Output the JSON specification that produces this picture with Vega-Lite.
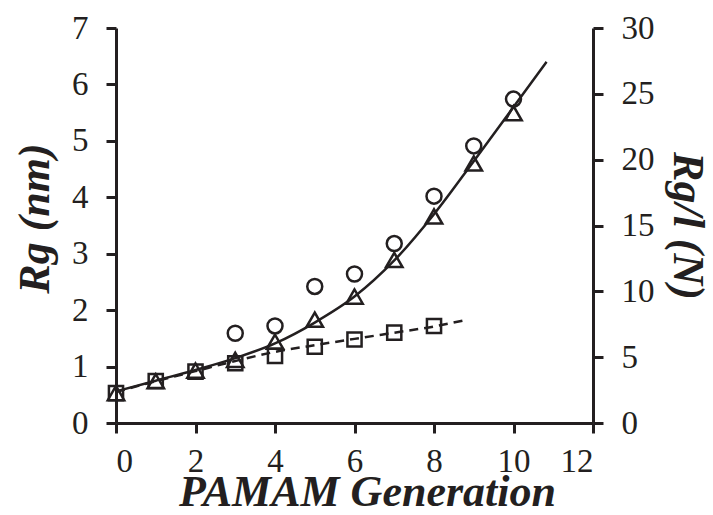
{
  "$schema": "https://vega.github.io/schema/vega-lite/v6.json",
  "width": 477,
  "height": 395,
  "autosize": "none",
  "padding": {"left": 116, "top": 28, "right": 120, "bottom": 92},
  "background": "white",
  "config": {
    "view": {"stroke": null},
    "axis": {
      "grid": false,
      "domainColor": "#231f20",
      "domainWidth": 3,
      "tickColor": "#231f20",
      "tickWidth": 3,
      "tickSize": 10,
      "labelFont": "Times New Roman, Liberation Serif, serif",
      "labelFontSize": 33,
      "labelColor": "#231f20",
      "titleFont": "Times New Roman, Liberation Serif, serif",
      "titleFontWeight": "bold",
      "titleFontStyle": "italic",
      "titleFontSize": 44,
      "titleColor": "#231f20"
    }
  },
  "datasets": {
    "circles": [
      {"gen": 3, "rg": 1.59}, {"gen": 4, "rg": 1.72}, {"gen": 5, "rg": 2.42}, {"gen": 6, "rg": 2.64},
      {"gen": 7, "rg": 3.18}, {"gen": 8, "rg": 4.02}, {"gen": 9, "rg": 4.91}, {"gen": 10, "rg": 5.74}
    ],
    "triangles": [
      {"gen": 0, "rg": 0.53}, {"gen": 1, "rg": 0.74}, {"gen": 2, "rg": 0.93}, {"gen": 3, "rg": 1.12},
      {"gen": 4, "rg": 1.44}, {"gen": 5, "rg": 1.83}, {"gen": 6, "rg": 2.24}, {"gen": 7, "rg": 2.89},
      {"gen": 8, "rg": 3.66}, {"gen": 9, "rg": 4.6}, {"gen": 10, "rg": 5.49}
    ],
    "fit": [
      {"gen": 0, "rg": 0.56}, {"gen": 1, "rg": 0.75}, {"gen": 2, "rg": 0.94}, {"gen": 3, "rg": 1.15},
      {"gen": 4, "rg": 1.41}, {"gen": 5, "rg": 1.78}, {"gen": 6, "rg": 2.24}, {"gen": 7, "rg": 2.88},
      {"gen": 8, "rg": 3.7}, {"gen": 9, "rg": 4.64}, {"gen": 10, "rg": 5.6}, {"gen": 10.83, "rg": 6.4}
    ],
    "squares": [
      {"gen": 0, "rgl": 2.27}, {"gen": 1, "rgl": 3.19}, {"gen": 2, "rgl": 3.9}, {"gen": 3, "rgl": 4.54},
      {"gen": 4, "rgl": 5.1}, {"gen": 5, "rgl": 5.79}, {"gen": 6, "rgl": 6.34}, {"gen": 7, "rgl": 6.86},
      {"gen": 8, "rgl": 7.37}
    ],
    "dashfit": [
      {"gen": 0, "rgl": 2.36}, {"gen": 1, "rgl": 3.17}, {"gen": 2, "rgl": 3.94}, {"gen": 3, "rgl": 4.71},
      {"gen": 4, "rgl": 5.4}, {"gen": 5, "rgl": 5.91}, {"gen": 6, "rgl": 6.39}, {"gen": 7, "rgl": 6.86},
      {"gen": 8, "rgl": 7.33}, {"gen": 8.82, "rgl": 7.84}
    ]
  },
  "layer": [
    {
      "layer": [
        {
          "data": {"name": "fit"},
          "mark": {"type": "line", "color": "#231f20", "strokeWidth": 2.5, "interpolate": "monotone"},
          "encoding": {
            "x": {"field": "gen", "type": "quantitative", "scale": {"domain": [0, 12]},
              "axis": {"values": [0, 2, 4, 6, 8, 10, 12], "format": "d", "title": "PAMAM Generation", "labelPadding": 12, "titleBaseline": "alphabetic", "titleX": 251, "titleY": 82}},
            "y": {"field": "rg", "type": "quantitative", "scale": {"domain": [0, 7]},
              "axis": {"orient": "left", "values": [0, 1, 2, 3, 4, 5, 6, 7], "format": "d", "title": "Rg (nm)", "labelPadding": 18, "titlePadding": 14, "titleY": 190}}
          }
        },
        {
          "data": {"name": "circles"},
          "mark": {"type": "point", "shape": "circle", "filled": false, "color": "#231f20", "strokeWidth": 2.5, "size": 225, "opacity": 1},
          "encoding": {
            "x": {"field": "gen", "type": "quantitative"},
            "y": {"field": "rg", "type": "quantitative"}
          }
        },
        {
          "data": {"name": "triangles"},
          "mark": {"type": "point", "shape": "triangle-up", "filled": false, "color": "#231f20", "strokeWidth": 2.5, "size": 270, "opacity": 1},
          "encoding": {
            "x": {"field": "gen", "type": "quantitative"},
            "y": {"field": "rg", "type": "quantitative"}
          }
        }
      ]
    },
    {
      "layer": [
        {
          "data": {"name": "dashfit"},
          "mark": {"type": "line", "color": "#231f20", "strokeWidth": 2.5, "strokeDash": [9, 6], "interpolate": "monotone"},
          "encoding": {
            "x": {"field": "gen", "type": "quantitative"},
            "y": {"field": "rgl", "type": "quantitative", "scale": {"domain": [0, 30]},
              "axis": {"orient": "right", "values": [0, 5, 10, 15, 20, 25, 30], "format": "d", "title": "Rg/l (N)", "labelPadding": 18, "titlePadding": 10}}
          }
        },
        {
          "data": {"name": "squares"},
          "mark": {"type": "point", "shape": "square", "filled": false, "color": "#231f20", "strokeWidth": 2.5, "size": 200, "opacity": 1},
          "encoding": {
            "x": {"field": "gen", "type": "quantitative"},
            "y": {"field": "rgl", "type": "quantitative"}
          }
        }
      ]
    }
  ],
  "resolve": {"scale": {"y": "independent"}, "axis": {"y": "independent"}}
}
